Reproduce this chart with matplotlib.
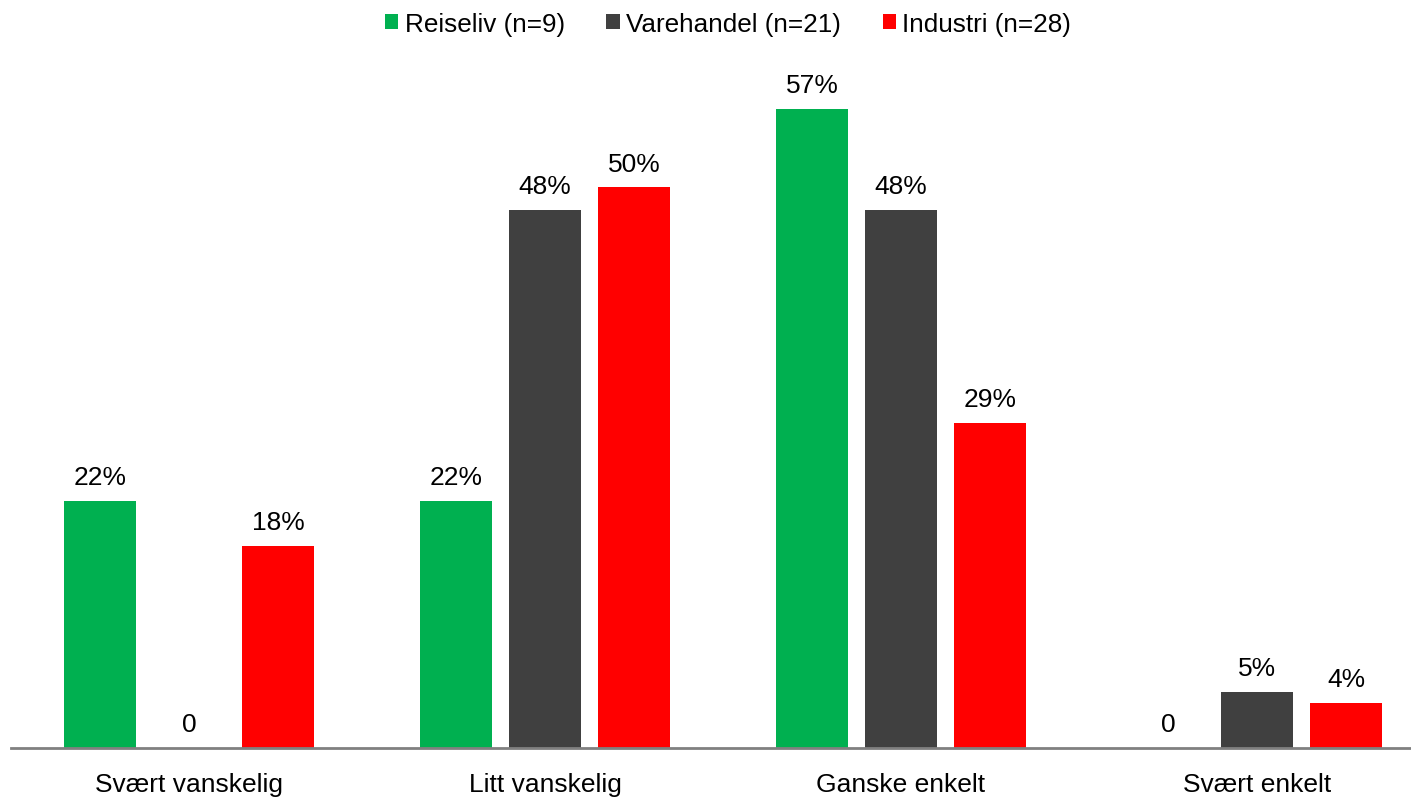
import numpy as np
import matplotlib
matplotlib.use("Agg")
import matplotlib.pyplot as plt

plt.rcParams['font.family'] = ['Liberation Sans', 'DejaVu Sans']

categories = ["Svært vanskelig", "Litt vanskelig", "Ganske enkelt", "Svært enkelt"]
series_names = ["Reiseliv (n=9)", "Varehandel (n=21)", "Industri (n=28)"]
reiseliv = [22, 22, 57, 0]
varehandel = [0, 48, 48, 5]
industri = [18, 50, 29, 4]
colors = ["#00B050", "#404040", "#FF0000"]

fig = plt.figure(figsize=(14.11, 8.04), dpi=100)
ax = fig.add_axes([11 / 1411, 55 / 804, 1.0 - 11 / 1411, (749 - 60) / 804])

x = np.arange(len(categories))
width = 0.2
step = 0.25

for i, (vals, name, col) in enumerate(zip([reiseliv, varehandel, industri], series_names, colors)):
    pos = x + (i - 1) * step
    ax.bar(pos, vals, width=width, color=col, label=name, zorder=2)
    for p, v in zip(pos, vals):
        txt = "0" if v == 0 else f"{v}%"
        ax.annotate(txt, (p, v), xytext=(0, 12.2), textcoords='offset points',
                    ha='center', va='baseline', fontsize=19, color='black')

ax.set_xlim(-0.5, -0.5 + 1400 / 356)
ax.set_ylim(0, (749 - 60) / (639 / 57))

for s in ['top', 'right', 'left']:
    ax.spines[s].set_visible(False)
ax.spines['bottom'].set_color('#808080')
ax.spines['bottom'].set_linewidth(2)
ax.set_yticks([])
ax.set_xticks(x)
ax.set_xticklabels(categories, fontsize=19)
ax.tick_params(axis='x', length=0, pad=17)

fig.legend(loc='upper center', bbox_to_anchor=(0.516, 1.0), ncol=3, frameon=False,
           fontsize=18.8, handlelength=0.5, handleheight=0.5, handletextpad=0.25,
           columnspacing=1.6, borderaxespad=0.1)

fig.savefig("out.png", dpi=100)
